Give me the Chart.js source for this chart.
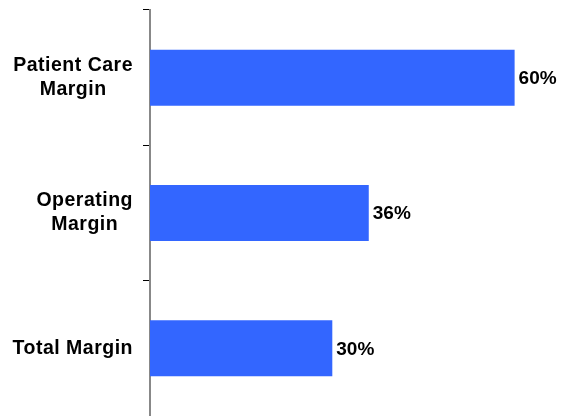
<!DOCTYPE html>
<html>
<head>
<meta charset="utf-8">
<script src="https://cdn.jsdelivr.net/npm/chart.js@4/dist/chart.umd.min.js"></script>
<style>
  html, body { margin: 0; padding: 0; background: #fff; }
  #wrap { width: 562px; height: 416px; }
</style>
</head>
<body>
<div id="wrap"><canvas id="marginChart"></canvas></div>
<script>
// margin categories (multi-line labels) and their values in percent
const categories = [["Patient Care", "Margin"], ["Operating", "Margin"], ["Total Margin"]];
const margins = [60, 36, 30];
const xMax = 65;

const catFont = "bold 19.5px 'Liberation Sans', Arial, sans-serif";
const valueFont = "bold 19px 'Liberation Sans', Arial, sans-serif";

// draws category names (lines centred inside a right-aligned block) and value labels
const labelPlugin = {
  id: "marginLabels",
  afterDraw(chart) {
    const ctx = chart.ctx;
    const yScale = chart.scales.y;
    ctx.save();
    ctx.font = catFont;
    ctx.letterSpacing = "0.5px";
    ctx.fillStyle = "#000";
    ctx.textBaseline = "middle";
    ctx.textAlign = "center";
    const lineH = 24;
    categories.forEach((lines, i) => {
      const y = yScale.getPixelForTick(i);
      const blockW = Math.max(...lines.map(l => ctx.measureText(l).width));
      const cx = yScale.right - 17 - blockW / 2;
      lines.forEach((line, j) => {
        ctx.fillText(line, cx, y + (j - (lines.length - 1) / 2) * lineH);
      });
    });
    ctx.font = valueFont;
    ctx.letterSpacing = "0px";
    ctx.textAlign = "left";
    const meta = chart.getDatasetMeta(0);
    meta.data.forEach((bar, i) => {
      ctx.fillText(margins[i] + "%", bar.x + 4, bar.y + 1);
    });
    ctx.restore();
  }
};

const ctx = document.getElementById("marginChart").getContext("2d");
const marginChart = new Chart(ctx, {
  type: "bar",
  data: {
    labels: categories,
    datasets: [
      {
        data: margins,
        backgroundColor: "#3366FF",
        borderWidth: 0,
        barPercentage: 0.414,
        categoryPercentage: 1.0,
      },
    ],
  },
  options: {
    indexAxis: "y",
    responsive: true,
    maintainAspectRatio: false,
    animation: false,
    layout: { padding: { top: 10, right: 17, bottom: 0, left: 0 } },
    plugins: {
      legend: { display: false },
      tooltip: { enabled: false },
    },
    scales: {
      x: {
        display: false,
        min: 0,
        max: xMax,
      },
      y: {
        afterFit(scale) {
          scale.width = 150;
        },
        ticks: { display: false },
        grid: {
          drawOnChartArea: false,
          drawTicks: true,
          tickLength: 7,
          color: "#000",
          lineWidth: 1,
        },
        border: { display: true, color: "#888", width: 2 },
      },
    },
  },
  plugins: [labelPlugin],
});
</script>
</body>
</html>
